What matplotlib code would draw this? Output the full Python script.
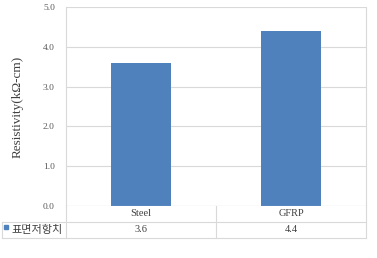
import matplotlib
matplotlib.use("Agg")
import matplotlib.pyplot as plt
from matplotlib.lines import Line2D

categorias = ["Steel", "GFRP"]
valores = [3.6, 4.4]
rotulos_valores = ["3.6", "4.4"]
serie = "표면저항치"
yticks = [0.0, 1.0, 2.0, 3.0, 4.0, 5.0]

AZUL = "#4F81BD"
GRADE = "#D9D9D9"
SERIF = "Liberation Serif"

W, H = 377, 258
fig = plt.figure(figsize=(W / 100, H / 100), dpi=100)
fig.patch.set_facecolor("white")

# area do grafico em pixels: x 66..366, y 7..206
ax = fig.add_axes([66 / W, (H - 206) / H, 300 / W, 199 / H])
x = list(range(len(categorias)))
ax.bar(x, valores, width=0.4, color=AZUL, zorder=3)
ax.set_xlim(-0.5, len(categorias) - 0.5)
ax.set_ylim(0, 5.0)
ax.set_yticks(yticks)
ax.set_yticklabels([f"{v:.1f}" for v in yticks], fontsize=6.8, family=SERIF, color="#595959")
ax.tick_params(axis="y", length=0, pad=8)
ax.set_xticks([])
ax.yaxis.grid(True, color=GRADE, linewidth=0.8, zorder=0)
for s in ["top", "bottom"]:
    ax.spines[s].set_visible(False)
for s in ["left", "right"]:
    ax.spines[s].set_color(GRADE)
    ax.spines[s].set_linewidth(0.8)
ax.set_ylabel("Resistivity(kΩ-cm)", fontsize=9.5, family=SERIF, color="#404040", labelpad=14)

# tabela de dados abaixo do eixo
lin = dict(color=GRADE, linewidth=0.8, clip_on=False)
ax.axhline(0, color=GRADE, linewidth=0.8, zorder=4)
row_h = 16 / 199
y1 = -row_h
y2 = -2 * row_h
legend_left = (2 - 66) / 300
trans = ax.transAxes
ax.add_line(Line2D([legend_left, 1], [y1, y1], transform=trans, **lin))
ax.add_line(Line2D([legend_left, 1], [y2, y2], transform=trans, **lin))
ax.add_line(Line2D([legend_left, legend_left], [y1, y2], transform=trans, **lin))
ax.add_line(Line2D([0, 0], [0, y2], transform=trans, **lin))
ax.add_line(Line2D([1, 1], [0, y2], transform=trans, **lin))
ncat = len(categorias)
for i in range(1, ncat):
    xs = i / ncat
    ax.add_line(Line2D([xs, xs], [0, y2], transform=trans, **lin))

for i, (cat, rot) in enumerate(zip(categorias, rotulos_valores)):
    xc = (i + 0.5) / ncat
    ax.text(xc, y1 / 2, cat, transform=trans, ha="center", va="center",
            fontsize=7.5, family=SERIF, color="#404040")
    ax.text(xc, (y1 + y2) / 2, rot, transform=trans, ha="center", va="center",
            fontsize=7.5, family=SERIF, color="#404040")

ax.plot([legend_left + 0.012], [(y1 + y2) / 2 + 0.014], marker="s", markersize=3.2,
        color=AZUL, transform=trans, clip_on=False)
ax.text(legend_left + 0.032, (y1 + y2) / 2, serie, transform=trans, ha="left", va="center",
        fontsize=8, family=["Noto Sans CJK KR", "DejaVu Sans"], color="#404040")

fig.savefig("out.png", dpi=100, facecolor="white")
